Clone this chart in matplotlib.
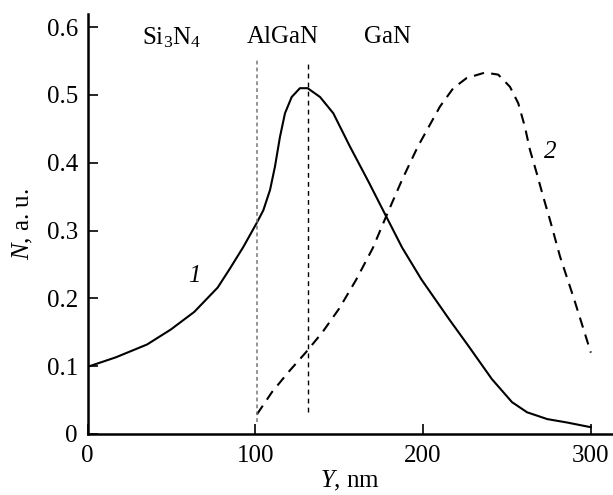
import matplotlib
matplotlib.use("Agg")
import matplotlib.pyplot as plt

# Curve 1 (solid)
x1 = [0, 16.8, 35.5, 49.6, 63.6, 77.6, 84.9, 92.9, 100.8, 104.8, 108.8, 111.7, 114.7, 117.7,
      121.7, 126.6, 131.2, 138.6, 146.5, 156.4, 167.5, 178, 187.5, 199, 215.6, 227, 241, 253,
      262, 274, 285.7, 300]
y1 = [0.099, 0.113, 0.132, 0.154, 0.180, 0.216, 0.244, 0.276, 0.311, 0.330, 0.360, 0.394, 0.438, 0.473,
      0.497, 0.510, 0.510, 0.497, 0.473, 0.424, 0.372, 0.321, 0.275, 0.228, 0.169, 0.130, 0.081, 0.047,
      0.032, 0.022, 0.017, 0.010]

# Curve 2 (dashed)
x2 = [101, 110, 120, 130, 140, 150, 160, 170, 178, 187.5, 196.9, 210.1, 218, 226, 236.9,
      244.8, 251.8, 256.7, 260.7, 263.7, 267.7, 271.6, 275.6, 281.6, 290, 300]
y2 = [0.029, 0.062, 0.092, 0.120, 0.150, 0.185, 0.227, 0.274, 0.321, 0.375, 0.424, 0.483, 0.510, 0.525, 0.533,
      0.530, 0.512, 0.488, 0.453, 0.419, 0.385, 0.350, 0.316, 0.262, 0.199, 0.120]

# Interface lines
iface_x = [100.8, 131.2]
iface_ybot = [0.017, 0.032]
iface_ytop = [0.551, 0.551]

layer_names = ["Si$_3$N$_4$", "AlGaN", "GaN"]
layer_x = [50.4, 116.5, 179]
layer_y = 0.585

curve_labels = ["1", "2"]
curve_label_x = [63.6, 275.6]
curve_label_y = [0.233, 0.416]

xticks = [0, 100, 200, 300]
yticks = [0, 0.1, 0.2, 0.3, 0.4, 0.5, 0.6]
ytick_labels = ["0", "0.1", "0.2", "0.3", "0.4", "0.5", "0.6"]

plt.rcParams['font.family'] = ['Liberation Serif', 'DejaVu Serif']
plt.rcParams['mathtext.fontset'] = 'custom'
plt.rcParams['mathtext.rm'] = 'Liberation Serif'
plt.rcParams['mathtext.it'] = 'Liberation Serif:italic'

fig = plt.figure(figsize=(6.13, 4.95), dpi=100)
ax = fig.add_axes([87.5 / 613, 61 / 495, 525.5 / 613, 420.4 / 495])

ax.plot(x1, y1, color='black', lw=1.5, solid_joinstyle='round')
ax.plot(x2, y2, color='black', lw=1.5, ls=(0, (5, 3.5)))

ax.vlines(iface_x[0], iface_ybot[0], iface_ytop[0], color='#777777', lw=1.1, ls=(0, (2.5, 2)))
ax.vlines(iface_x[1], iface_ybot[1], iface_ytop[1], color='black', lw=1.0, ls=(0, (3.5, 3)))

for name, xx in zip(layer_names, layer_x):
    ax.text(xx, layer_y, name, ha='center', va='center', fontsize=18)

for lab, xx, yy in zip(curve_labels, curve_label_x, curve_label_y):
    ax.text(xx, yy, lab, style='italic', fontsize=18, ha='center', va='center')

ax.set_xlim(0, 313.2)
ax.set_ylim(0, 0.62)
ax.set_xticks(xticks)
ax.set_xticklabels([str(t) for t in xticks])
ax.set_yticks(yticks)
ax.set_yticklabels(ytick_labels)
ax.tick_params(direction='in', length=7, width=1.2, labelsize=18)
ax.tick_params(axis='y', pad=7)
ax.tick_params(axis='x', pad=8)

for s in ['top', 'right']:
    ax.spines[s].set_visible(False)
for s in ['left', 'bottom']:
    ax.spines[s].set_linewidth(1.8)

ax.set_xlabel("$Y$, nm", fontsize=18, labelpad=1)
ax.set_ylabel("$N$, a. u.", fontsize=18, labelpad=8)

fig.savefig("out.png", dpi=100)
